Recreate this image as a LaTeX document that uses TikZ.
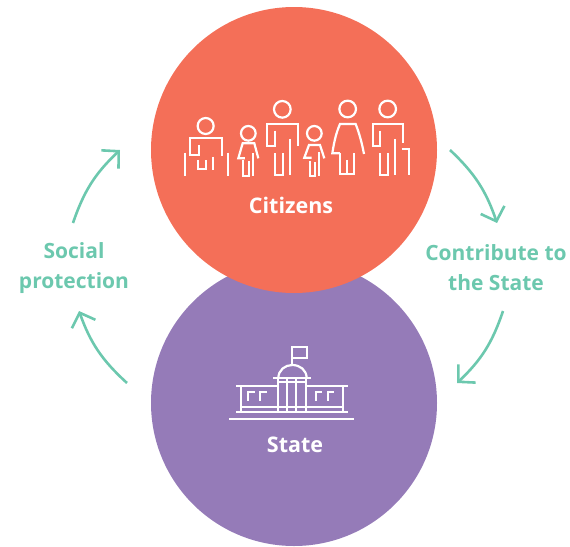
\documentclass[tikz,border=0pt]{standalone}
\usepackage{fontspec}
\setmainfont{Open Sans}
\usetikzlibrary{arrows.meta}
\definecolor{coral}{HTML}{F46F58}
\definecolor{violet}{HTML}{957BB8}
\definecolor{mint}{HTML}{6CC8AE}
\begin{document}
\begin{tikzpicture}[x=1pt,y=-1pt]

\tikzset{
disc/.style={circle,minimum size=286pt,inner sep=0pt},
title/.style={text=white,font={\fontsize{21.5pt}{24pt}\selectfont\bfseries}},
caption/.style={text=mint,align=center,font={\fontsize{21pt}{30pt}\selectfont\bfseries}},
icon/.style={draw=white,line width=2.2pt,line cap=butt,line join=miter},
edge/.style={draw=mint,line width=2.6pt,-{Straight Barb[length=12pt,width=25pt]}}
}
\useasboundingbox (0,0) rectangle (570,546);

% vertices
\node[disc,fill=violet] (state) at (294,403) {};
\node[disc,fill=coral] (citizens) at (294,150) {};
\node[title] (citizenslabel) at (291,205) {Citizens};
\node[title] (statelabel) at (295,445) {State};
\node[caption] (social) at (74,268) {Social\\protection};
\node[caption] (contribute) at (496,268) {Contribute to\\the State};

\coordinate (a1) at (450,150);
\coordinate (a2) at (497,223);
\coordinate (b1) at (503,311);
\coordinate (b2) at (457,383);
\coordinate (c1) at (127,383);
\coordinate (c2) at (79,311);
\coordinate (d1) at (73,223);
\coordinate (d2) at (120,150);

%edges
\path
(a1) edge[edge,bend left=14]  (a2)
(b1) edge[edge,bend left=14]  (b2)
(c1) edge[edge,bend left=14]  (c2)
(d1) edge[edge,bend left=14]  (d2)
;

% people, left part
\begin{scope}[shift={(170,90)},x=0.3333pt,y=-0.3333pt]
\draw[icon] (107,108) circle (24);
\draw[icon] (88,165) -- (88,195) -- (60,195) -- (60,145) -- (155,145) -- (155,197);
\draw[icon] (130,200) -- (130,240);
\draw[icon] (85,210) -- (85,238) -- (108,238) -- (108,210);
\draw[icon] (45,188) -- (45,258);
\draw[icon] (173,188) -- (173,258);

\draw[icon] (235,130) circle (22);
\draw[icon] (225,205) -- (205,205) -- (218,160) -- (253,160) -- (265,205);
\draw[icon] (220,210) -- (220,257) -- (238,257) -- (238,212);
\draw[icon] (248,190) -- (248,257);

\draw[icon] (337,58) circle (25);
\draw[icon] (315,122) -- (315,167) -- (292,167) -- (292,102) -- (385,102) -- (385,168);
\draw[icon] (315,190) -- (315,255) -- (338,255) -- (338,190);
\draw[icon] (360,147) -- (360,255);
\end{scope}

% people, right part
\begin{scope}[shift={(290,90)},x=0.3333pt,y=-0.3333pt]
\draw[icon] (73,130) circle (22);
\draw[icon] (65,203) -- (43,203) -- (57,165) -- (90,165) -- (103,205);
\draw[icon] (60,212) -- (60,257) -- (75,257) -- (75,215);
\draw[icon] (87,187) -- (87,257);

\draw[icon] (173,57) circle (25);
\draw[icon] (150,190) -- (127,190) .. controls (133,150) and (140,125) .. (150,102) -- (197,102) .. controls (208,130) and (216,160) .. (222,192);
\draw[icon] (150,190) -- (150,253) -- (193,253) -- (193,190);
\draw[icon] (172,210) -- (172,253);

\draw[icon] (293,57) circle (25);
\draw[icon] (270,122) -- (270,167) -- (248,167) -- (248,102) -- (340,102) -- (340,160);
\draw[icon] (270,190) -- (270,255) -- (295,255) -- (295,190);
\draw[icon] (316,147) -- (316,255);
\draw[icon] (335,178) -- (358,178) -- (358,255);
\end{scope}

% building
\begin{scope}[shift={(225,340)},x=0.3333pt,y=-0.3333pt]
\draw[icon] (200,72) -- (200,20) -- (245,20) -- (245,55) -- (200,55);
\draw[icon] (160,115) .. controls (160,90) and (180,75) .. (202,75) .. controls (225,75) and (245,90) .. (245,115);
\draw[icon] (145,115) -- (258,115);
\draw[icon] (33,137) -- (160,137);
\draw[icon] (243,137) -- (370,137);
\draw[icon] (160,125) -- (243,125);
\foreach \colx in {160,185,213,243}
  \draw[icon] (\colx,115) -- (\colx,217);
\draw[icon] (48,137) -- (48,217);
\draw[icon] (355,137) -- (355,217);
\draw[icon] (33,217) -- (370,217);
\draw[icon] (48,202) -- (355,202);
\foreach \winx in {70,105,272,308}
  \draw[icon] (\winx,182) -- (\winx,155) -- (\winx+20,155);
\draw[icon] (12,236) -- (388,236);
\end{scope}

\end{tikzpicture}
\end{document}
